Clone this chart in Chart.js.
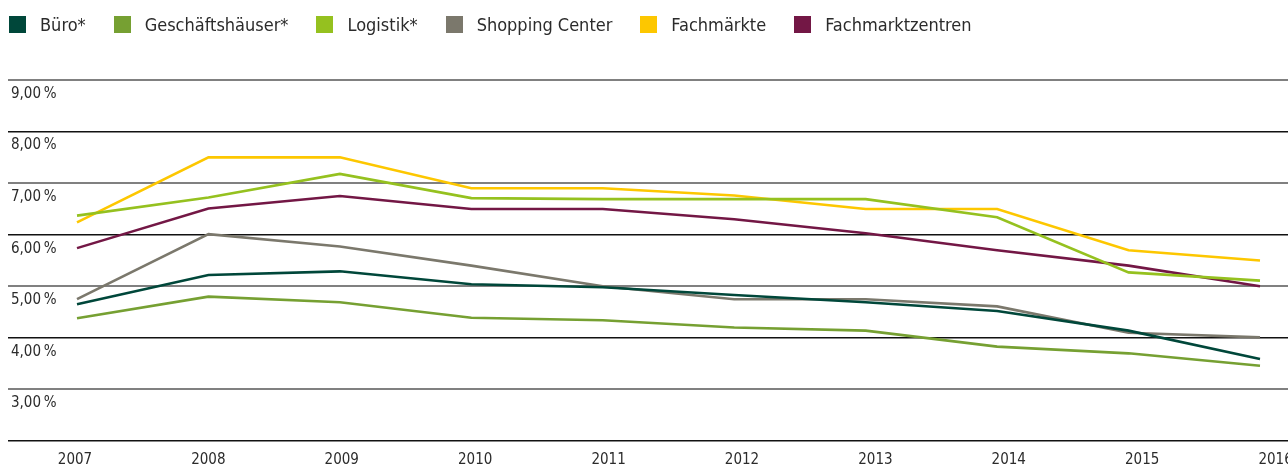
<!DOCTYPE html>
<html>
<head>
<meta charset="utf-8">
<script src="https://cdn.jsdelivr.net/npm/chart.js@4"></script>
<style>
  html, body { margin: 0; padding: 0; background: #fff; overflow: hidden; }
  body { width: 1288px; height: 465px; position: relative; }
  #legend { position: absolute; left: 9px; top: 16px; display: flex; z-index: 2;
    font-family: "DejaVu Sans Condensed", "DejaVu Sans", sans-serif; font-size: 18px; color: #2b2b2b; }
  #legend .item { display: flex; align-items: center; margin-right: 28px; height: 17px; }
  #legend .box { width: 17px; height: 17px; margin-right: 14px; }
  #wrap { position: absolute; left: 0; top: 0; width: 1288px; height: 479px; }
</style>
</head>
<body>
<div id="legend"></div>
<div id="wrap"><canvas id="myChart"></canvas></div>
<script>
var years = [2007, 2008, 2009, 2010, 2011, 2012, 2013, 2014, 2015, 2016];
var yTicks = [2, 3, 4, 5, 6, 7, 8, 9];
var yTickLabels = ["", "3,00\u2009%", "4,00\u2009%", "5,00\u2009%", "6,00\u2009%", "7,00\u2009%", "8,00\u2009%", "9,00\u2009%"];

var seriesNames = ["Büro*", "Geschäftshäuser*", "Logistik*", "Shopping Center", "Fachmärkte", "Fachmarktzentren"];
var buero = [4.65, 5.22, 5.29, 5.04, 4.98, 4.83, 4.69, 4.52, 4.14, 3.59];
var geschaeftshaeuser = [4.38, 4.80, 4.69, 4.39, 4.34, 4.20, 4.14, 3.83, 3.70, 3.46];
var logistik = [6.37, 6.72, 7.18, 6.71, 6.69, 6.69, 6.69, 6.34, 5.27, 5.11];
var shopping = [4.75, 6.01, 5.77, 5.40, 5.00, 4.75, 4.75, 4.61, 4.10, 4.01];
var fachmaerkte = [6.24, 7.50, 7.50, 6.90, 6.90, 6.76, 6.50, 6.50, 5.70, 5.50];
var fachmarktzentren = [5.74, 6.51, 6.75, 6.50, 6.50, 6.30, 6.03, 5.70, 5.40, 5.00];

var colors = ["#00473a", "#76a032", "#95c11f", "#7b786c", "#fdc700", "#731745"];
var allSeries = [buero, geschaeftshaeuser, logistik, shopping, fachmaerkte, fachmarktzentren];

// legend
seriesNames.forEach(function (name, i) {
  var item = document.createElement("div");
  item.className = "item";
  item.innerHTML = `<span class="box" style="background:${colors[i]}"></span><span>${name}</span>`;
  document.getElementById("legend").appendChild(item);
});

var tickFont = { family: "'DejaVu Sans Condensed', 'DejaVu Sans', sans-serif", size: 15 };

var ctx = document.getElementById("myChart").getContext("2d");
var yieldChart = new Chart(ctx, {
  type: "line",
  data: {
    labels: years,
    datasets: allSeries.map(function (values, i) {
      return {
        label: seriesNames[i],
        data: values,
        borderColor: colors[i],
        backgroundColor: colors[i],
        borderWidth: 2.6,
        pointRadius: 0,
        tension: 0,
        fill: false,
      };
    }),
  },
  options: {
    responsive: true,
    maintainAspectRatio: false,
    animation: false,
    layout: { padding: { left: 2, right: 0, top: 80, bottom: 0 } },
    plugins: { legend: { display: false }, tooltip: { enabled: false } },
    scales: {
      // data axis (hidden)
      x: {
        type: "linear",
        min: 2006.475,
        max: 2016.213,
        display: false,
      },
      // year labels, spaced a little wider than the data points as in the original
      xLabels: {
        type: "linear",
        position: "bottom",
        min: 2006.498,
        max: 2016.093,
        afterBuildTicks: function (axis) {
          axis.ticks = years.map(function (v) { return { value: v }; });
        },
        afterFit: function (axis) {
          // let the last year run off the right edge like in the original
          axis.paddingLeft = 0;
          axis.paddingRight = 0;
        },
        ticks: {
          padding: 10,
          color: "#2b2b2b",
          font: tickFont,
          callback: function (v) { return String(v); },
          maxRotation: 0,
          autoSkip: false,
        },
        grid: { display: false, drawTicks: false },
        border: { display: false },
      },
      y: {
        min: 2,
        max: 9,
        afterBuildTicks: function (axis) {
          axis.ticks = yTicks.map(function (v) { return { value: v }; });
        },
        ticks: {
          mirror: true,
          padding: 3,
          labelOffset: 14,
          color: "#2b2b2b",
          font: tickFont,
          callback: function (v) { return yTickLabels[yTicks.indexOf(v)]; },
        },
        grid: {
          drawTicks: false,
          color: function (c) { return c.tick && c.tick.value % 2 ? "#808080" : "#111111"; },
          lineWidth: function (c) { return c.tick && c.tick.value % 2 ? 2 : 1.5; },
        },
        border: { display: false },
      },
    },
  },
});
</script>
</body>
</html>
